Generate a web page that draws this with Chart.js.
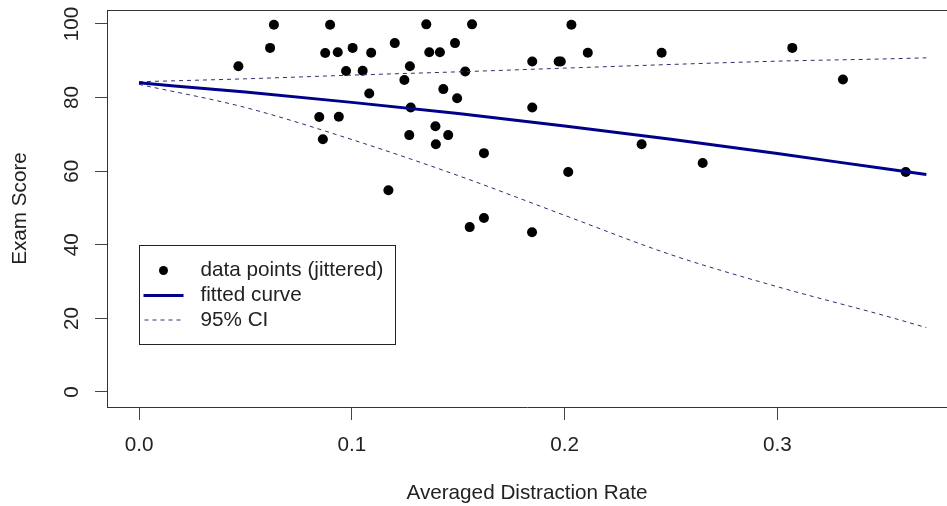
<!DOCTYPE html>
<html>
<head>
<meta charset="utf-8">
<script src="https://cdn.jsdelivr.net/npm/chart.js@4.4.1/dist/chart.umd.min.js"></script>
<style>
    html, body { margin: 0; padding: 0; background: #fff; }
    #contenedor { width: 947px; height: 506px; }
</style>
</head>
<body>
<div id="contenedor"><canvas id="grafica"></canvas></div>
<script>
// ===============================
// DATOS
// ===============================
// data points (jittered)
const rateX = [0.0467, 0.0616, 0.0634, 0.0898, 0.0875, 0.0934, 0.1004, 0.1091, 0.0973, 0.1051,
               0.1082, 0.0847, 0.0939, 0.0864, 0.1172, 0.1202, 0.1273, 0.1247, 0.1277, 0.1270,
               0.1350, 0.1364, 0.1414, 0.1485, 0.1533, 0.1430, 0.1495, 0.1393, 0.1453, 0.1395,
               0.1554, 0.1565, 0.1621, 0.1621, 0.1847, 0.2032, 0.2109, 0.2456, 0.3070, 0.1848,
               0.1972, 0.1982, 0.3308, 0.1848, 0.2362, 0.2017, 0.2649, 0.3603];
const scoreY = [88.5, 93.5, 99.8, 99.8, 92.1, 92.3, 93.5, 92.2, 87.2, 87.3,
                81.1, 74.7, 74.8, 68.7, 54.8, 94.8, 88.5, 84.8, 77.3, 69.8,
                99.9, 92.3, 92.3, 94.8, 87.1, 82.3, 79.8, 72.2, 69.8, 67.3,
                44.8, 99.9, 64.9, 47.3, 43.4, 99.8, 92.2, 92.2, 93.5, 89.8,
                89.8, 89.8, 84.9, 77.3, 67.3, 59.8, 62.2, 59.8];

// fitted curve and 95% CI, read at these rates
const curveX = [0, 0.05, 0.1, 0.15, 0.2, 0.25, 0.3, 0.35, 0.37];
const fitY   = [84.0, 81.5, 78.7, 75.7, 72.3, 68.7, 64.8, 60.7, 59.1];
const upperY = [84.3, 85.1, 86.1, 87.0, 88.0, 89.0, 89.9, 90.5, 90.8];
const lowerY = [83.6, 77.3, 68.6, 58.8, 48.0, 37.3, 28.6, 20.8, 17.5];

const xTicks = [0, 0.1, 0.2, 0.3];
const yTicks = [0, 20, 40, 60, 80, 100];
const legendLabels = ["data points (jittered)", "fitted curve", "95% CI"];

// ===============================
// ESTILO
// ===============================
const azul = "#00008B";
const azulIC = "#2e2e70";
const fuente = '"Liberation Sans", Arial, sans-serif';
const tam = 20.7;
Chart.defaults.font.family = fuente;
Chart.defaults.font.size = tam;
Chart.defaults.color = "#222";

const toXY = (xs, ys) => xs.map((v, i) => ({ x: v, y: ys[i] }));

// sin margenes extra de las etiquetas: el area va de borde a borde
const sinMargen = s => {
    s.paddingLeft = 0; s.paddingRight = 0;
    s.paddingTop = 0; s.paddingBottom = 0;
};

// marco superior del area (estilo R, box)
const marco = {
    id: "marco",
    afterDraw(chart) {
        const { ctx, chartArea: a } = chart;
        ctx.save();
        ctx.strokeStyle = "#333";
        ctx.lineWidth = 1;
        ctx.beginPath();
        ctx.moveTo(a.left, Math.round(a.top) + 0.5);
        ctx.lineTo(a.right, Math.round(a.top) + 0.5);
        ctx.stroke();
        ctx.restore();
    }
};

// leyenda dentro del grafico, esquina en (0, 40)
const leyenda = {
    id: "leyenda",
    afterDraw(chart) {
        const { ctx, scales: { x, y } } = chart;
        const left = Math.round(x.getPixelForValue(0)) + 0.5;
        const top = Math.round(y.getPixelForValue(40)) + 0.5;
        ctx.save();
        ctx.font = `${tam}px ${fuente}`;
        const textW = Math.max(...legendLabels.map(t => ctx.measureText(t).width));
        const w = Math.round(61 + textW + 12), h = 99;
        ctx.fillStyle = "#fff";
        ctx.fillRect(left, top, w, h);
        ctx.strokeStyle = "#222";
        ctx.lineWidth = 1;
        ctx.strokeRect(left, top, w, h);

        const filas = [top + 25, top + 50, top + 74.5];
        // punto
        ctx.fillStyle = "#000";
        ctx.beginPath();
        ctx.arc(left + 24, filas[0], 4.5, 0, Math.PI * 2);
        ctx.fill();
        // linea ajustada
        ctx.strokeStyle = azul;
        ctx.lineWidth = 3;
        ctx.beginPath();
        ctx.moveTo(left + 4, filas[1]);
        ctx.lineTo(left + 44, filas[1]);
        ctx.stroke();
        // IC
        ctx.strokeStyle = azulIC;
        ctx.lineWidth = 1;
        ctx.setLineDash([4, 4]);
        ctx.beginPath();
        ctx.moveTo(left + 5, filas[2]);
        ctx.lineTo(left + 44, filas[2]);
        ctx.stroke();
        ctx.setLineDash([]);

        ctx.fillStyle = "#222";
        ctx.textBaseline = "middle";
        legendLabels.forEach((t, i) => ctx.fillText(t, left + 61, filas[i]));
        ctx.restore();
    }
};

const lineaBase = {
    type: "line",
    pointRadius: 0,
    fill: false,
    cubicInterpolationMode: "monotone"
};

new Chart(document.getElementById("grafica"), {
    type: "scatter",
    data: {
        datasets: [
            {
                ...lineaBase,
                label: "fitted curve",
                data: toXY(curveX, fitY),
                borderColor: azul,
                borderWidth: 3,
                order: 1
            },
            {
                ...lineaBase,
                label: "95% CI upper",
                data: toXY(curveX, upperY),
                borderColor: azulIC,
                borderWidth: 1,
                borderDash: [4, 4],
                order: 2
            },
            {
                ...lineaBase,
                label: "95% CI lower",
                data: toXY(curveX, lowerY),
                borderColor: azulIC,
                borderWidth: 1,
                borderDash: [4, 4],
                order: 3
            },
            {
                label: "data points (jittered)",
                data: toXY(rateX, scoreY),
                pointRadius: 5,
                pointHoverRadius: 5,
                backgroundColor: "#000",
                borderWidth: 0,
                order: 4
            }
        ]
    },
    options: {
        responsive: true,
        maintainAspectRatio: false,
        animation: false,
        layout: { autoPadding: false, padding: { top: 10, right: 0, left: 0, bottom: 0 } },
        plugins: {
            legend: { display: false },
            tooltip: { enabled: false }
        },
        scales: {
            x: {
                type: "linear",
                min: -0.01504,
                max: 0.3797,
                afterBuildTicks: s => { s.ticks = xTicks.map(v => ({ value: v })); },
                afterFit: s => { s.height = 99; sinMargen(s); },
                grid: { drawOnChartArea: false, tickLength: 13, tickColor: "#444" },
                border: { color: "#333", width: 1 },
                ticks: {
                    padding: 13,
                    maxRotation: 0,
                    callback: v => v.toFixed(1)
                },
                title: {
                    display: true,
                    text: "Averaged Distraction Rate",
                    padding: { top: 15, bottom: 0 }
                }
            },
            y: {
                type: "linear",
                min: -4.08,
                max: 103.8,
                afterBuildTicks: s => { s.ticks = yTicks.map(v => ({ value: v })); },
                afterFit: s => { s.width = 107; sinMargen(s); },
                grid: { drawOnChartArea: false, tickLength: 12, tickColor: "#444" },
                border: { color: "#333", width: 1 },
                ticks: {
                    minRotation: 90,
                    maxRotation: 90,
                    crossAlign: "center",
                    padding: 5
                },
                title: {
                    display: true,
                    text: "Exam Score",
                    padding: { top: 8, bottom: 0 }
                }
            }
        }
    },
    plugins: [marco, leyenda]
});
</script>
</body>
</html>
